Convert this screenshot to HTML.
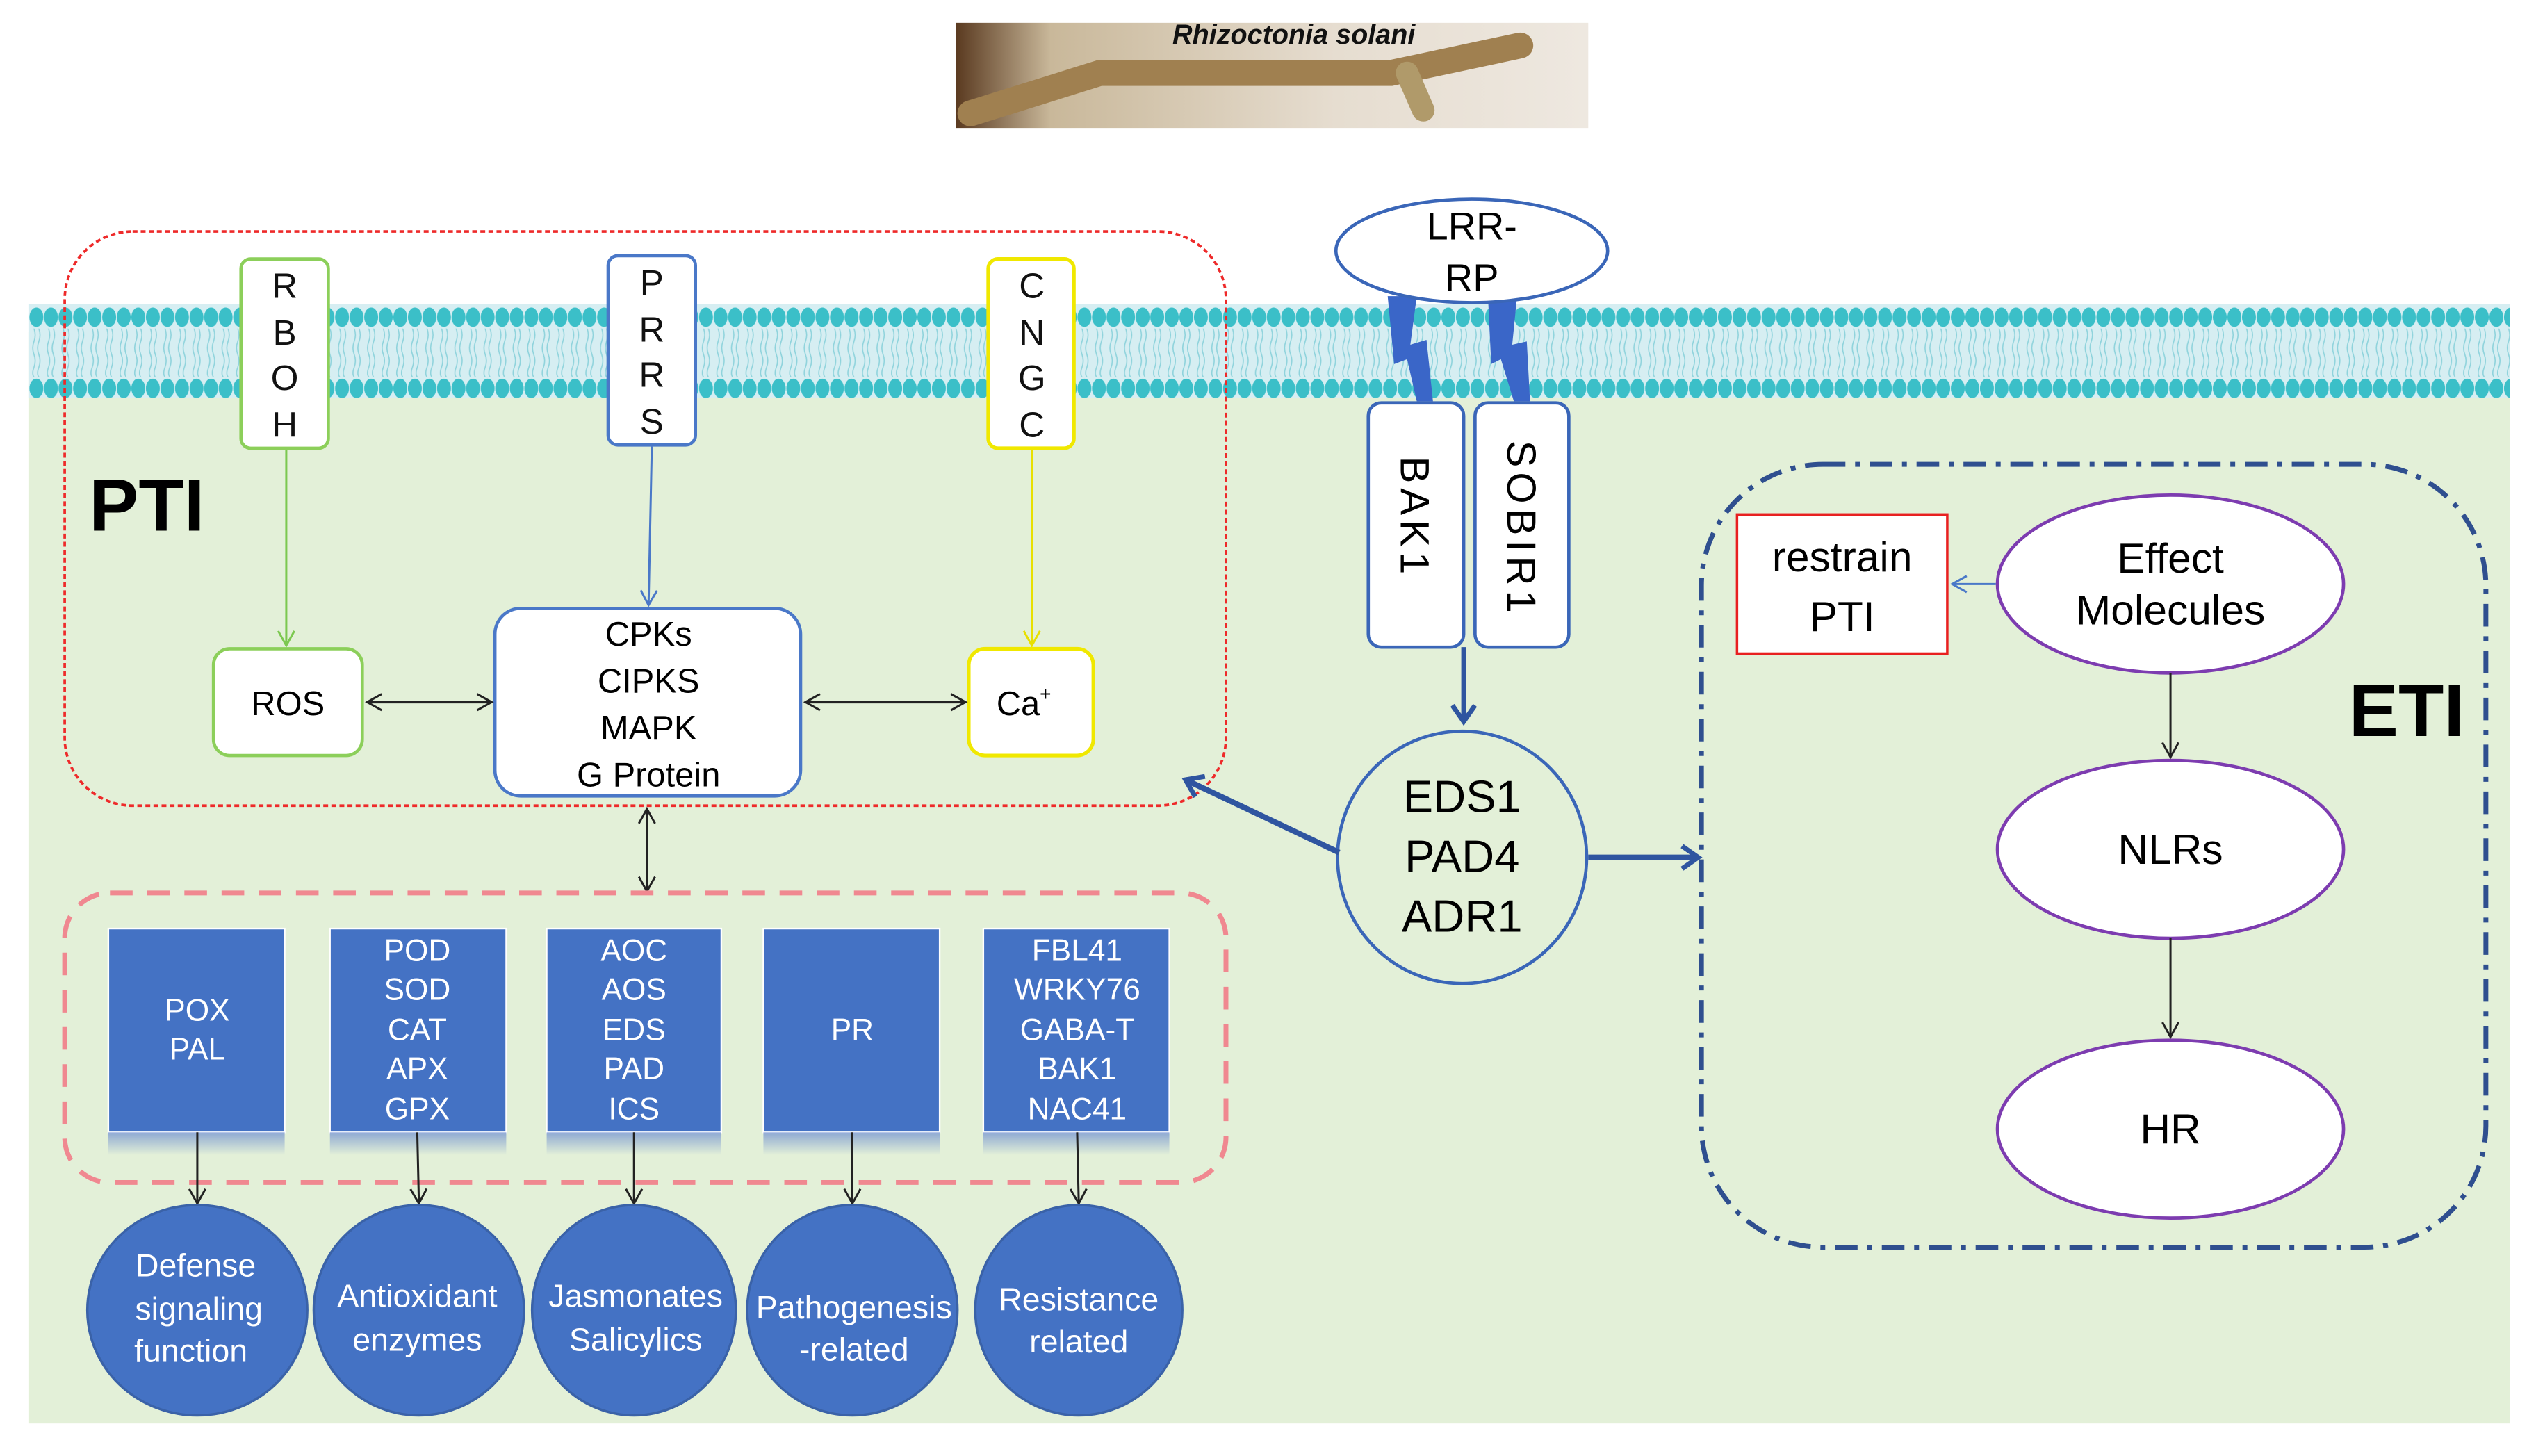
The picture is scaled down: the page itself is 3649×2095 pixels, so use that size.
<!DOCTYPE html>
<html><head><meta charset="utf-8"><style>html,body{margin:0;padding:0;background:#fff}svg{display:block}</style></head>
<body>
<svg width="3649" height="2095" viewBox="0 0 1568 900" xmlns="http://www.w3.org/2000/svg" font-family="Liberation Sans, sans-serif">
<defs>
<pattern id="mem1" x="18" y="189" width="9" height="14" patternUnits="userSpaceOnUse">
<ellipse cx="4.5" cy="7" rx="4.3" ry="6" fill="#3bbfc8"/>
</pattern>
<pattern id="mem2" x="18" y="233" width="9" height="14" patternUnits="userSpaceOnUse">
<ellipse cx="4.5" cy="7" rx="4.3" ry="6" fill="#3bbfc8"/>
</pattern>
<pattern id="tails" x="18" y="203" width="9" height="30" patternUnits="userSpaceOnUse">
<path d="M3,0 q1.5,4 0,8 q-1.5,4 0,8 q1.5,4 0,8 q-1.5,4 0,6 M6,0 q1.5,4 0,8 q-1.5,4 0,8 q1.5,4 0,8 q-1.5,4 0,6" stroke="#8fd3dc" stroke-width="0.7" fill="none"/>
</pattern>
<marker id="ak" markerWidth="12" markerHeight="12" refX="10" refY="6" orient="auto-start-reverse" markerUnits="userSpaceOnUse"><path d="M1,1 L10,6 L1,11" fill="none" stroke="#222" stroke-width="1.3"/></marker>
<marker id="ag" markerWidth="12" markerHeight="12" refX="10" refY="6" orient="auto" markerUnits="userSpaceOnUse"><path d="M1,1 L10,6 L1,11" fill="none" stroke="#7cc850" stroke-width="1.3"/></marker>
<marker id="ab" markerWidth="12" markerHeight="12" refX="10" refY="6" orient="auto" markerUnits="userSpaceOnUse"><path d="M1,1 L10,6 L1,11" fill="none" stroke="#4a78c8" stroke-width="1.3"/></marker>
<marker id="ay" markerWidth="12" markerHeight="12" refX="10" refY="6" orient="auto" markerUnits="userSpaceOnUse"><path d="M1,1 L10,6 L1,11" fill="none" stroke="#e8e000" stroke-width="1.3"/></marker>
<marker id="aB" markerWidth="16" markerHeight="16" refX="12" refY="8" orient="auto" markerUnits="userSpaceOnUse"><path d="M2,1 L12,8 L2,15" fill="none" stroke="#2f55a0" stroke-width="3"/></marker>
<linearGradient id="ph" x1="0" y1="0" x2="1" y2="0"><stop offset="0" stop-color="#5a3a20"/><stop offset="0.15" stop-color="#c9b89a"/><stop offset="0.6" stop-color="#e6ddd0"/><stop offset="1" stop-color="#eee8e0"/></linearGradient>
<linearGradient id="sh" x1="0" y1="0" x2="0" y2="1"><stop offset="0" stop-color="#6a8ad0" stop-opacity="0.7"/><stop offset="1" stop-color="#6a8ad0" stop-opacity="0"/></linearGradient>
</defs>
<!-- photo -->
<rect x="591" y="14" width="391" height="65" fill="url(#ph)"/>
<path d="M600,70 L680,45 L760,45 L860,45 L940,28" stroke="#a08050" stroke-width="16" fill="none" stroke-linecap="round"/>
<path d="M870,45 L880,68" stroke="#b09a6a" stroke-width="14" stroke-linecap="round"/>
<text x="800" y="27" font-size="17" font-weight="bold" font-style="italic" text-anchor="middle" fill="#111">Rhizoctonia solani</text>
<!-- background -->
<rect x="18" y="205" width="1534" height="675" fill="#e3f0d8"/>
<rect x="18" y="188" width="1534" height="58" fill="#d6eef2"/>
<rect x="18" y="203" width="1534" height="30" fill="url(#tails)"/>
<rect x="18" y="189" width="1534" height="14" fill="url(#mem1)"/>
<rect x="18" y="233" width="1534" height="14" fill="url(#mem2)"/>
<!-- PTI region -->
<rect x="40" y="143" width="718" height="355" rx="42" fill="none" stroke="#ee2a2a" stroke-width="1.6" stroke-dasharray="3,2"/>
<g font-size="22" text-anchor="middle" fill="#111">
<rect x="149" y="160" width="54" height="117" rx="6" fill="#fff" stroke="#8ccf5a" stroke-width="2"/>
<text x="176" y="184">R</text><text x="176" y="213">B</text><text x="176" y="241">O</text><text x="176" y="270">H</text>
<rect x="376" y="158" width="54" height="117" rx="6" fill="#fff" stroke="#4a78c8" stroke-width="2"/>
<text x="403" y="182">P</text><text x="403" y="211">R</text><text x="403" y="239">R</text><text x="403" y="268">S</text>
<rect x="611" y="160" width="53" height="117" rx="6" fill="#fff" stroke="#f0e800" stroke-width="2.2"/>
<text x="638" y="184">C</text><text x="638" y="213">N</text><text x="638" y="241">G</text><text x="638" y="270">C</text>
</g>
<text x="55" y="328" font-size="46" font-weight="bold" fill="#000">PTI</text>
<line x1="177" y1="278" x2="177" y2="399" stroke="#7cc850" stroke-width="1.3" marker-end="url(#ag)"/>
<line x1="403" y1="276" x2="401" y2="374" stroke="#4a78c8" stroke-width="1.3" marker-end="url(#ab)"/>
<line x1="638" y1="278" x2="638" y2="399" stroke="#e8e000" stroke-width="1.3" marker-end="url(#ay)"/>
<rect x="132" y="401" width="92" height="66" rx="10" fill="#fff" stroke="#8ccf5a" stroke-width="2"/>
<text x="178" y="442" font-size="21" text-anchor="middle">ROS</text>
<rect x="306" y="376" width="189" height="116" rx="16" fill="#fff" stroke="#4a78c8" stroke-width="2"/>
<g font-size="21" text-anchor="middle"><text x="401" y="399">CPKs</text><text x="401" y="428">CIPKS</text><text x="401" y="457">MAPK</text><text x="401" y="486">G Protein</text></g>
<rect x="599" y="401" width="77" height="66" rx="10" fill="#fff" stroke="#f0e800" stroke-width="2.2"/>
<text x="633" y="442" font-size="21" text-anchor="middle">Ca<tspan font-size="12" dy="-9">+</tspan></text>
<line x1="227" y1="434" x2="304" y2="434" stroke="#222" stroke-width="1.6" marker-start="url(#ak)" marker-end="url(#ak)"/>
<line x1="498" y1="434" x2="597" y2="434" stroke="#222" stroke-width="1.6" marker-start="url(#ak)" marker-end="url(#ak)"/>
<line x1="400" y1="500" x2="400" y2="551" stroke="#222" stroke-width="1.3" marker-start="url(#ak)" marker-end="url(#ak)"/>
<!-- pink box -->
<rect x="40" y="552" width="718" height="179" rx="28" fill="none" stroke="#f08890" stroke-width="3" stroke-dasharray="14,9"/>
<g fill="#4472c4" stroke="#fff" stroke-width="1">
<rect x="67" y="574" width="109" height="126"/><rect x="204" y="574" width="109" height="126"/><rect x="338" y="574" width="108" height="126"/><rect x="472" y="574" width="109" height="126"/><rect x="608" y="574" width="115" height="126"/>
</g>
<g fill="url(#sh)"><rect x="67" y="700" width="109" height="14"/><rect x="204" y="700" width="109" height="14"/><rect x="338" y="700" width="108" height="14"/><rect x="472" y="700" width="109" height="14"/><rect x="608" y="700" width="115" height="14"/></g>
<g font-size="19" fill="#fff" text-anchor="middle">
<text x="122" y="631">POX</text><text x="122" y="655">PAL</text>
<text x="258" y="594">POD</text><text x="258" y="618">SOD</text><text x="258" y="643">CAT</text><text x="258" y="667">APX</text><text x="258" y="692">GPX</text>
<text x="392" y="594">AOC</text><text x="392" y="618">AOS</text><text x="392" y="643">EDS</text><text x="392" y="667">PAD</text><text x="392" y="692">ICS</text>
<text x="527" y="643">PR</text>
<text x="666" y="594">FBL41</text><text x="666" y="618">WRKY76</text><text x="666" y="643">GABA-T</text><text x="666" y="667">BAK1</text><text x="666" y="692">NAC41</text>
</g>
<g stroke="#222" stroke-width="1.3">
<line x1="122" y1="700" x2="122" y2="744" marker-end="url(#ak)"/><line x1="258" y1="700" x2="259" y2="744" marker-end="url(#ak)"/><line x1="392" y1="700" x2="392" y2="744" marker-end="url(#ak)"/><line x1="527" y1="700" x2="527" y2="744" marker-end="url(#ak)"/><line x1="666" y1="700" x2="667" y2="744" marker-end="url(#ak)"/>
</g>
<g fill="#4472c4" stroke="#3a62a8" stroke-width="1.5">
<ellipse cx="122" cy="810" rx="68" ry="65"/><ellipse cx="259" cy="810" rx="65" ry="65"/><ellipse cx="392" cy="810" rx="63" ry="65"/><ellipse cx="527" cy="810" rx="65" ry="65"/><ellipse cx="667" cy="810" rx="64" ry="65"/>
</g>
<g font-size="20" fill="#fff" text-anchor="middle">
<text x="121" y="789">Defense</text><text x="123" y="816">signaling</text><text x="118" y="842">function</text>
<text x="258" y="808">Antioxidant</text><text x="258" y="835">enzymes</text>
<text x="393" y="808">Jasmonates</text><text x="393" y="835">Salicylics</text>
<text x="528" y="815">Pathogenesis</text><text x="528" y="841">-related</text>
<text x="667" y="810">Resistance</text><text x="667" y="836">related</text>
</g>
<!-- receptor -->
<path d="M858,183 L876,183 L872,213 L882,210 L886,248 L876,248 L870,222 L862,225 Z" fill="#3a66c8"/>
<path d="M920,183 L938,183 L935,213 L944,211 L946,248 L936,248 L928,222 L922,225 Z" fill="#3a66c8"/>
<ellipse cx="910" cy="155" rx="84" ry="32" fill="#fff" stroke="#3a66b8" stroke-width="2"/>
<text x="910" y="148" font-size="24" text-anchor="middle">LRR-</text><text x="910" y="180" font-size="24" text-anchor="middle">RP</text>
<rect x="846" y="249" width="59" height="151" rx="8" fill="#fff" stroke="#3a66b8" stroke-width="2"/>
<rect x="912" y="249" width="58" height="151" rx="8" fill="#fff" stroke="#3a66b8" stroke-width="2"/>
<g font-size="25" text-anchor="middle" transform="rotate(90)" letter-spacing="3">
<text x="320" y="-866">BAK1</text><text x="327" y="-932">SOBIR1</text>
</g>
<line x1="905" y1="400" x2="905" y2="446" stroke="#2f55a0" stroke-width="3" marker-end="url(#aB)"/>
<ellipse cx="904" cy="530" rx="77" ry="78" fill="#e3f0d8" stroke="#3a66b8" stroke-width="2"/>
<g font-size="28" text-anchor="middle"><text x="904" y="502">EDS1</text><text x="904" y="539">PAD4</text><text x="904" y="576">ADR1</text></g>
<line x1="828" y1="527" x2="733" y2="482" stroke="#2f55a0" stroke-width="3.5" marker-end="url(#aB)"/>
<line x1="982" y1="530" x2="1050" y2="530" stroke="#2f55a0" stroke-width="3.5" marker-end="url(#aB)"/>
<!-- ETI -->
<rect x="1052" y="287" width="485" height="484" rx="75" fill="none" stroke="#2f4f8f" stroke-width="3" stroke-dasharray="14,6,3,6"/>
<text x="1488" y="455" font-size="46" font-weight="bold" text-anchor="middle">ETI</text>
<rect x="1074" y="318" width="130" height="86" fill="#fff" stroke="#e82020" stroke-width="1.5"/>
<text x="1139" y="353" font-size="26" text-anchor="middle">restrain</text><text x="1139" y="390" font-size="26" text-anchor="middle">PTI</text>
<line x1="1234" y1="361" x2="1207" y2="361" stroke="#4a78c8" stroke-width="1.3" marker-end="url(#ab)"/>
<g fill="#fff" stroke="#7d3cb0" stroke-width="2">
<ellipse cx="1342" cy="361" rx="107" ry="55"/><ellipse cx="1342" cy="525" rx="107" ry="55"/><ellipse cx="1342" cy="698" rx="107" ry="55"/>
</g>
<g font-size="26" text-anchor="middle"><text x="1342" y="354">Effect</text><text x="1342" y="386">Molecules</text><text x="1342" y="534">NLRs</text><text x="1342" y="707">HR</text></g>
<line x1="1342" y1="416" x2="1342" y2="468" stroke="#222" stroke-width="1.3" marker-end="url(#ak)"/>
<line x1="1342" y1="580" x2="1342" y2="641" stroke="#222" stroke-width="1.3" marker-end="url(#ak)"/>
</svg>
</body></html>
